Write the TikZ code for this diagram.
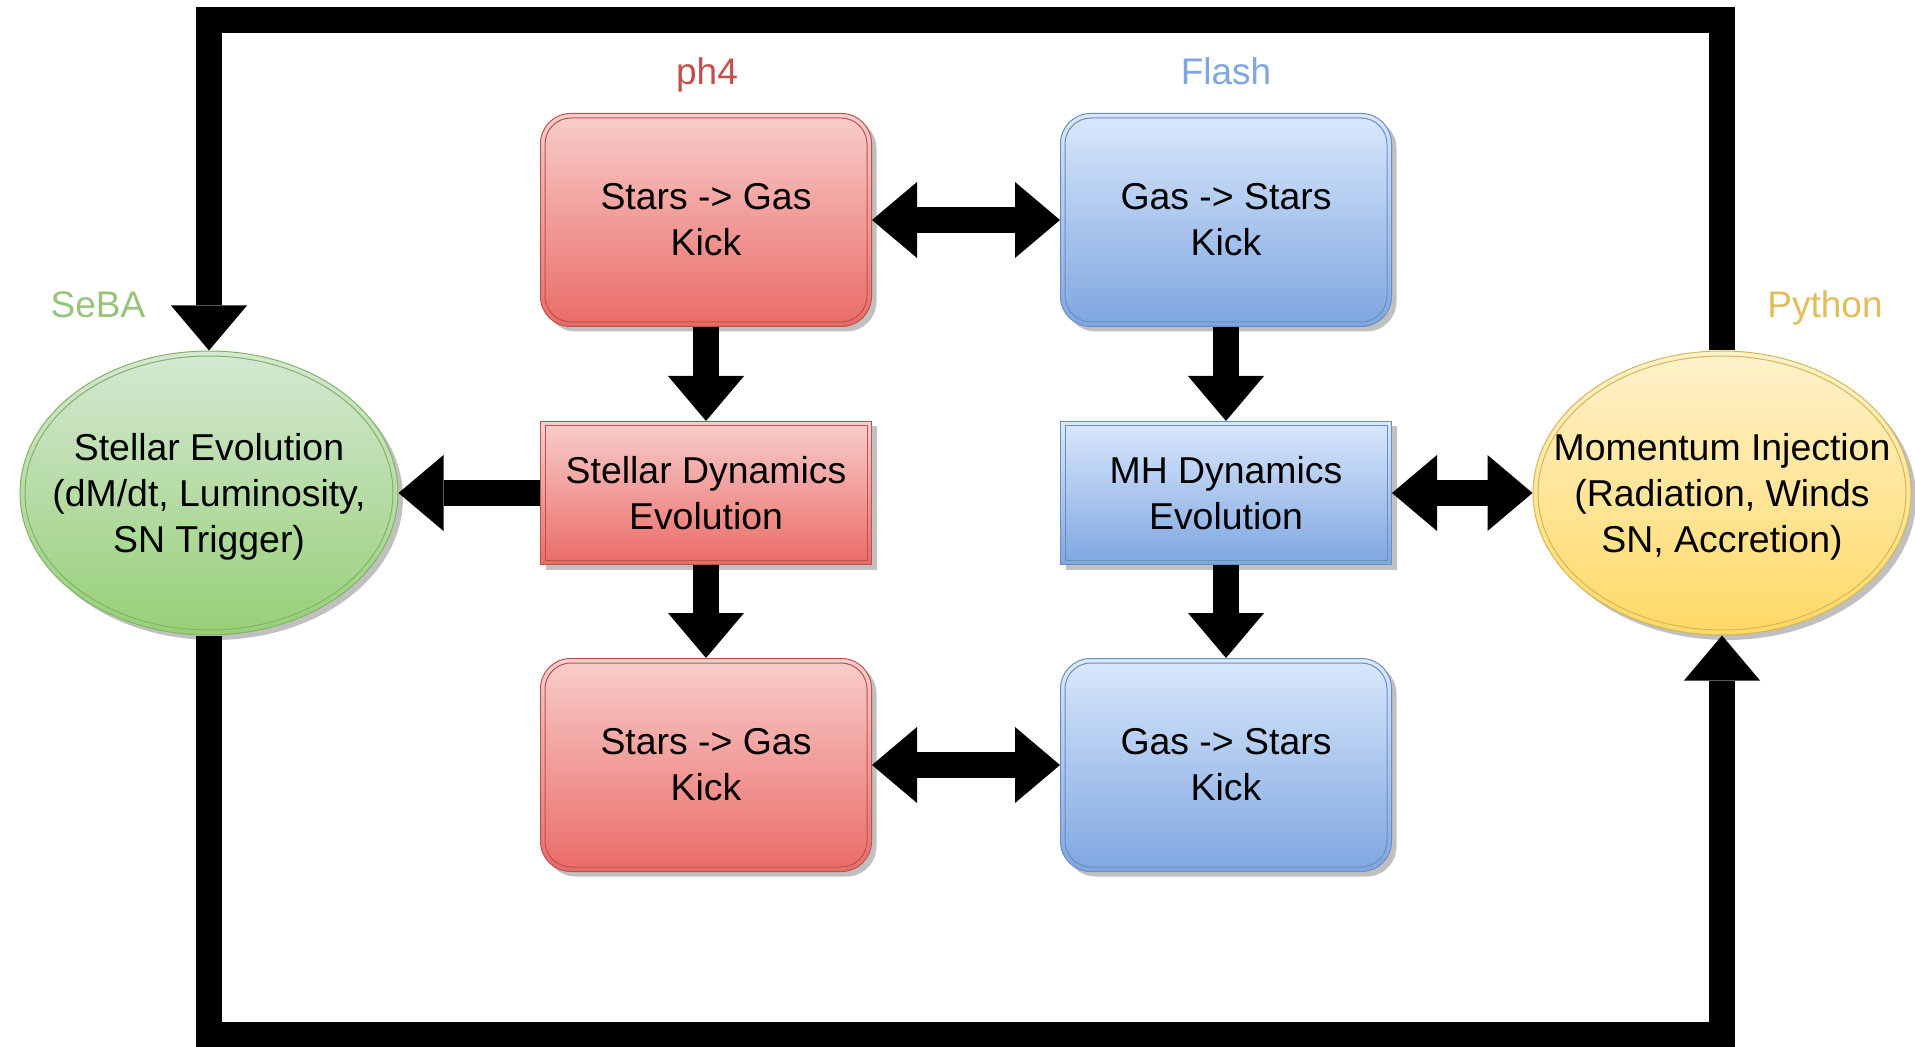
\documentclass[tikz,border=0pt]{standalone}
\usepackage{fontspec}
\setmainfont{Liberation Sans}
\usetikzlibrary{arrows.meta,shapes.geometric,shadows,calc}
\definecolor{redT}{HTML}{F8CECC}
\definecolor{redB}{HTML}{EA6B66}
\definecolor{redS}{HTML}{B85450}
\definecolor{bluT}{HTML}{DAE8FC}
\definecolor{bluB}{HTML}{7EA6E0}
\definecolor{bluS}{HTML}{6C8EBF}
\definecolor{grnT}{HTML}{D5E8D4}
\definecolor{grnB}{HTML}{97D077}
\definecolor{grnS}{HTML}{82B366}
\definecolor{yelT}{HTML}{FFF2CC}
\definecolor{yelB}{HTML}{FFD966}
\definecolor{yelS}{HTML}{D6B656}
\definecolor{ph4C}{HTML}{C0504D}
\definecolor{flashC}{HTML}{7EA6E0}
\definecolor{sebaC}{HTML}{97C47A}
\definecolor{pyC}{HTML}{E0BE5A}
\newcommand\myinbox[3]{\draw[#2, line width=0.5pt, rounded corners=#3] ([shift={(2.5pt,-2.5pt)}]#1.north west) rectangle ([shift={(-2.5pt,2.5pt)}]#1.south east);}
\begin{document}
\begin{tikzpicture}[x=0.5pt,y=-0.5pt,
  txt/.style={font=\fontsize{18.7}{23}\selectfont, align=center, text=black},
  shad/.style={drop shadow={shadow xshift=2.5pt, shadow yshift=-2.5pt, opacity=0.35, fill=black!70}},
  boxbase/.style={txt, shad, line width=0.5pt, minimum width=165.5pt, inner sep=0pt},
  redround/.style={boxbase, draw=redS, top color=redT, bottom color=redB, rounded corners=15pt, minimum height=106.5pt},
  bluround/.style={boxbase, draw=bluS, top color=bluT, bottom color=bluB, rounded corners=15pt, minimum height=106.5pt},
  redrect/.style={boxbase, draw=redS, top color=redT, bottom color=redB, minimum height=71.5pt},
  blurect/.style={boxbase, draw=bluS, top color=bluT, bottom color=bluB, minimum height=71.5pt},
  ell/.style={ellipse, shad, line width=0.5pt, minimum width=189pt, minimum height=142pt, inner sep=0pt},
  grp/.style={font=\fontsize{18.5}{22}\selectfont},
  blk/.style={line width=13pt, draw=black, line join=miter},
  oneway/.style={blk, -{Triangle[width=38pt,length=22.5pt,line width=0pt]}},
  twoway/.style={blk, {Triangle[width=38pt,length=22.5pt,line width=0pt]}-{Triangle[width=38pt,length=22.5pt,line width=0pt]}}
]
\useasboundingbox (0,0) rectangle (1915,1047);
\fill[white] (0,0) rectangle (1915,1047);

% group labels
\node[grp, text=ph4C] (lph4) at (707,75) {ph4};
\node[grp, text=flashC] (lflash) at (1226,71) {Flash};
\node[grp, text=sebaC] (lseba) at (98,305) {SeBA};
\node[grp, text=pyC] (lpy) at (1825,308) {Python};

% boxes
\node[redround] (a1) at (706,220) {Stars -> Gas\\Kick};
\node[bluround] (b1) at (1226,220) {Gas -> Stars\\Kick};
\node[redrect] (a2) at (706,493) {Stellar Dynamics\\Evolution};
\node[blurect] (b2) at (1226,493) {MH Dynamics\\Evolution};
\node[redround] (a3) at (706,765) {Stars -> Gas\\Kick};
\node[bluround] (b3) at (1226,765) {Gas -> Stars\\Kick};
\myinbox{a1}{redS}{13pt}
\myinbox{b1}{bluS}{13pt}
\myinbox{a2}{redS}{0pt}
\myinbox{b2}{bluS}{0pt}
\myinbox{a3}{redS}{13pt}
\myinbox{b3}{bluS}{13pt}

% ellipses
\node[ell, draw=grnS, top color=grnT, bottom color=grnB,
  label={[txt, yshift=-2pt]center:Stellar Evolution\\(dM/dt, Luminosity,\\SN Trigger)}] (seba) at (209,493) {};
\node[ell, draw=yelS, top color=yelT, bottom color=yelB,
  label={[txt, yshift=-2pt]center:Momentum Injection\\(Radiation, Winds\\SN, Accretion)}] (py) at (1722,493) {};
\draw[grnS, line width=0.5pt] (seba.center) ellipse [x radius=92pt, y radius=68.5pt];
\draw[yelS, line width=0.5pt] (py.center) ellipse [x radius=92pt, y radius=68.5pt];

% connectors
\draw[oneway] (a1.south) -- (a2.north);
\draw[oneway] (a2.south) -- (a3.north);
\draw[oneway] (b1.south) -- (b2.north);
\draw[oneway] (b2.south) -- (b3.north);
\draw[twoway] (a1.east) -- (b1.west);
\draw[twoway] (a3.east) -- (b3.west);
\draw[oneway] (a2.west) -- (seba.east);
\draw[twoway] (b2.east) -- (py.west);

\coordinate (topy) at (0,20);
\coordinate (boty) at (0,1035);
\draw[oneway] (py.north) -- (py.north |- topy) -| (seba.north);
\draw[oneway] (seba.south) -- (seba.south |- boty) -| (py.south);
\end{tikzpicture}
\end{document}
